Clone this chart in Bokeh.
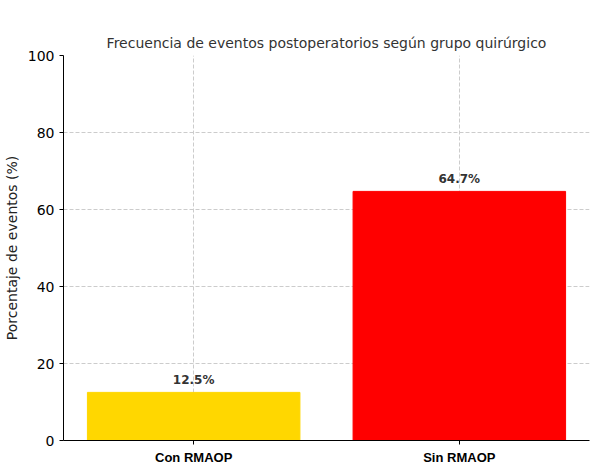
from bokeh.plotting import figure
from bokeh.models import ColumnDataSource, Range1d, FixedTicker, LabelSet
from bokeh.core.properties import value
from bokeh.embed import file_html
from bokeh.resources import INLINE

groups = ["Con RMAOP", "Sin RMAOP"]
values = [12.5, 64.7]
colors = ["#FFD700", "#FF0000"]
labels = [f"{v}%" for v in values]
xpos = list(range(len(groups)))

src = ColumnDataSource(dict(x=xpos, top=values, color=colors, label=labels))

p = figure(frame_width=526, frame_height=385, output_backend="svg", toolbar_location=None,
           x_range=Range1d(-0.49, 1.49), y_range=Range1d(0, 100),
           min_border_left=56, min_border_right=2, min_border_top=55, min_border_bottom=10)
p.title.text = "Frecuencia de eventos postoperatorios según grupo quirúrgico"
p.title.align = "center"
p.title.text_font = "DejaVu Sans"
p.title.text_font_style = "normal"
p.title.text_font_size = "14px"
p.title.text_color = "#333333"
p.outline_line_color = None

p.vbar(x="x", top="top", width=0.8, color="color", source=src)
p.add_layout(LabelSet(x="x", y="top", text="label", source=src, text_align="center",
                      y_offset=5, text_font=value("DejaVu Sans"), text_font_style="bold",
                      text_font_size="12px", text_color="#333333"))

p.xaxis.ticker = FixedTicker(ticks=xpos)
p.xaxis.major_label_overrides = {i: g for i, g in enumerate(groups)}
p.xaxis.major_label_text_font_style = "bold"
p.xaxis.major_label_text_font_size = "13px"
p.xaxis.major_label_text_font = "Liberation Sans"
p.yaxis.ticker = FixedTicker(ticks=[0, 20, 40, 60, 80, 100])
p.yaxis.axis_label = "Porcentaje de eventos (%)"
p.yaxis.axis_label_text_font_style = "normal"
p.yaxis.axis_label_text_font = "DejaVu Sans"
p.yaxis.axis_label_text_font_size = "14px"
p.yaxis.axis_label_text_color = "#222222"
for ax in (p.xaxis, p.yaxis):
    ax.axis_line_color = "black"
    ax.minor_tick_line_color = None
    ax.major_tick_out = 4
    ax.major_tick_in = 0
    ax.major_label_text_color = "black"
p.yaxis.major_label_text_font = "DejaVu Sans"
p.yaxis.major_label_text_font_size = "14px"
p.grid.grid_line_dash = "4 2"
p.grid.grid_line_color = "#cccccc"
p.grid.grid_line_alpha = 1.0

open("out.html", "w").write(file_html(p, INLINE))
